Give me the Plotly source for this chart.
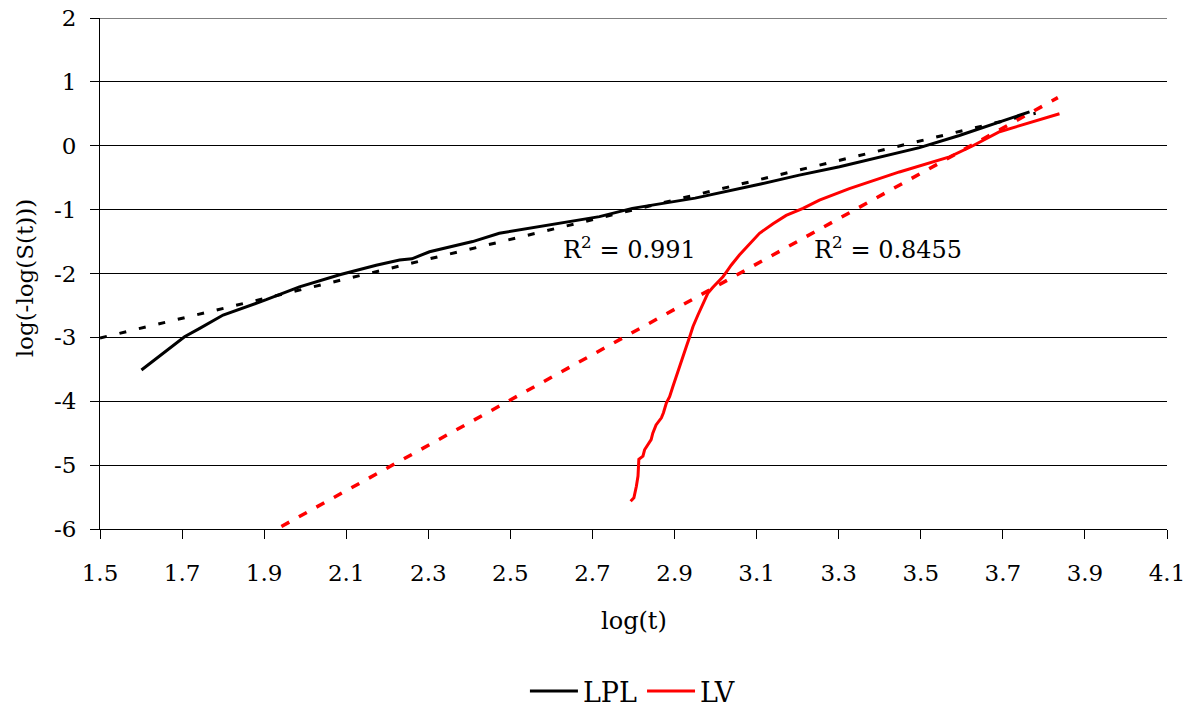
import plotly.graph_objects as go

# LPL observed curve
lpl_x = [1.601, 1.653, 1.706, 1.743, 1.800, 1.905, 1.986, 2.084, 2.173, 2.230, 2.260,
         2.303, 2.408, 2.473, 2.539, 2.636, 2.717, 2.797, 2.879, 2.950, 3.110, 3.204,
         3.302, 3.399, 3.497, 3.594, 3.692, 3.765]
lpl_y = [-3.51, -3.25, -2.99, -2.86, -2.65, -2.41, -2.21, -2.02, -1.87, -1.79, -1.77,
         -1.66, -1.50, -1.37, -1.30, -1.19, -1.11, -0.98, -0.89, -0.82, -0.60, -0.46,
         -0.33, -0.175, -0.03, 0.16, 0.37, 0.53]

# LV observed curve
lv_x = [2.793, 2.801, 2.807, 2.811, 2.813, 2.823, 2.827, 2.835, 2.843, 2.847, 2.855,
        2.868, 2.873, 2.880, 2.888, 2.896, 2.904, 2.912, 2.920, 2.929, 2.937, 2.945,
        2.957, 2.969, 2.981, 2.993, 3.005, 3.018, 3.027, 3.038, 3.058, 3.083, 3.107,
        3.140, 3.172, 3.213, 3.253, 3.326, 3.448, 3.570, 3.627, 3.692, 3.838]
lv_y = [-5.565, -5.51, -5.33, -5.17, -4.91, -4.86, -4.76, -4.68, -4.60, -4.50, -4.37,
        -4.26, -4.18, -4.03, -3.93, -3.77, -3.61, -3.46, -3.30, -3.14, -2.99, -2.83,
        -2.65, -2.47, -2.31, -2.22, -2.14, -2.05, -1.97, -1.87, -1.71, -1.53, -1.37,
        -1.22, -1.09, -0.98, -0.85, -0.67, -0.41, -0.175, 0.0, 0.22, 0.50]

# linear trend lines (end points)
lpl_trend_x = [1.5, 3.78]
lpl_trend_y = [-3.01, 0.51]
lv_trend_x = [1.942, 3.834]
lv_trend_y = [-5.96, 0.753]

r2_labels = ["R<sup>2</sup> = 0.991", "R<sup>2</sup> = 0.8455"]
r2_x = [2.623, 3.234]
r2_y = [-1.60, -1.60]

x_ticks = [1.5, 1.7, 1.9, 2.1, 2.3, 2.5, 2.7, 2.9, 3.1, 3.3, 3.5, 3.7, 3.9, 4.1]
y_ticks = [-6, -5, -4, -3, -2, -1, 0, 1, 2]

FONT = "DejaVu Serif"

fig = go.Figure()
fig.add_trace(go.Scatter(x=lpl_trend_x, y=lpl_trend_y, mode="lines",
                         line=dict(color="black", width=3, dash="7px,13px"),
                         showlegend=False, hoverinfo="skip"))
fig.add_trace(go.Scatter(x=lv_trend_x, y=lv_trend_y, mode="lines",
                         line=dict(color="#ff0000", width=3.5, dash="9px,11px"),
                         showlegend=False, hoverinfo="skip"))
fig.add_trace(go.Scatter(x=lpl_x, y=lpl_y, mode="lines", name="LPL",
                         line=dict(color="black", width=3)))
fig.add_trace(go.Scatter(x=lv_x, y=lv_y, mode="lines", name="LV",
                         line=dict(color="#ff0000", width=3)))

for t, xx, yy in zip(r2_labels, r2_x, r2_y):
    fig.add_annotation(x=xx, y=yy, text=t, showarrow=False, xanchor="left",
                       yanchor="middle", font=dict(family=FONT, size=24, color="black"))

fig.add_annotation(x=0.5, y=-0.181, xref="paper", yref="paper", text="log(t)",
                   xanchor="center", yanchor="middle",
                   showarrow=False, font=dict(family=FONT, size=24, color="black"))
fig.add_annotation(x=-0.0706, y=0.49, xref="paper", yref="paper", text="log(-log(S(t)))",
                   xanchor="center", yanchor="middle",
                   textangle=-90, showarrow=False, font=dict(family=FONT, size=23, color="black"))

# top gridline (at the edge of the y range)
fig.add_shape(type="line", xref="paper", yref="y", x0=0, x1=1, y0=y_ticks[-1], y1=y_ticks[-1],
              line=dict(color="black", width=1), layer="below")

fig.update_layout(
    width=1196, height=706,
    margin=dict(l=92, r=37, t=10, b=185, autoexpand=False),
    paper_bgcolor="white", plot_bgcolor="white",
    font=dict(family=FONT, size=23, color="black"),
    showlegend=True,
    legend=dict(orientation="h", x=0.499, xanchor="center", y=-0.318, yanchor="middle",
                font=dict(family=FONT, size=27, color="black"), itemwidth=48,
                bgcolor="rgba(0,0,0,0)"),
    xaxis=dict(range=[1.5, 4.1], tickvals=x_ticks, ticktext=[f"{v:.1f}" for v in x_ticks],
               showgrid=False, zeroline=False, showline=True, linecolor="black", linewidth=1,
               ticks="outside", ticklen=9, tickcolor="black", ticklabelstandoff=14,
               ticklabeloverflow="allow", automargin=False),
    yaxis=dict(range=[-6, 2], tickvals=y_ticks, ticktext=[str(v) for v in y_ticks],
               showgrid=True, gridcolor="black", gridwidth=1,
               zeroline=False, showline=True, linecolor="black", linewidth=1,
               ticks="outside", ticklen=9, tickcolor="black", ticklabelstandoff=9,
               ticklabeloverflow="allow", automargin=False),
)

fig.write_html("out.html")
